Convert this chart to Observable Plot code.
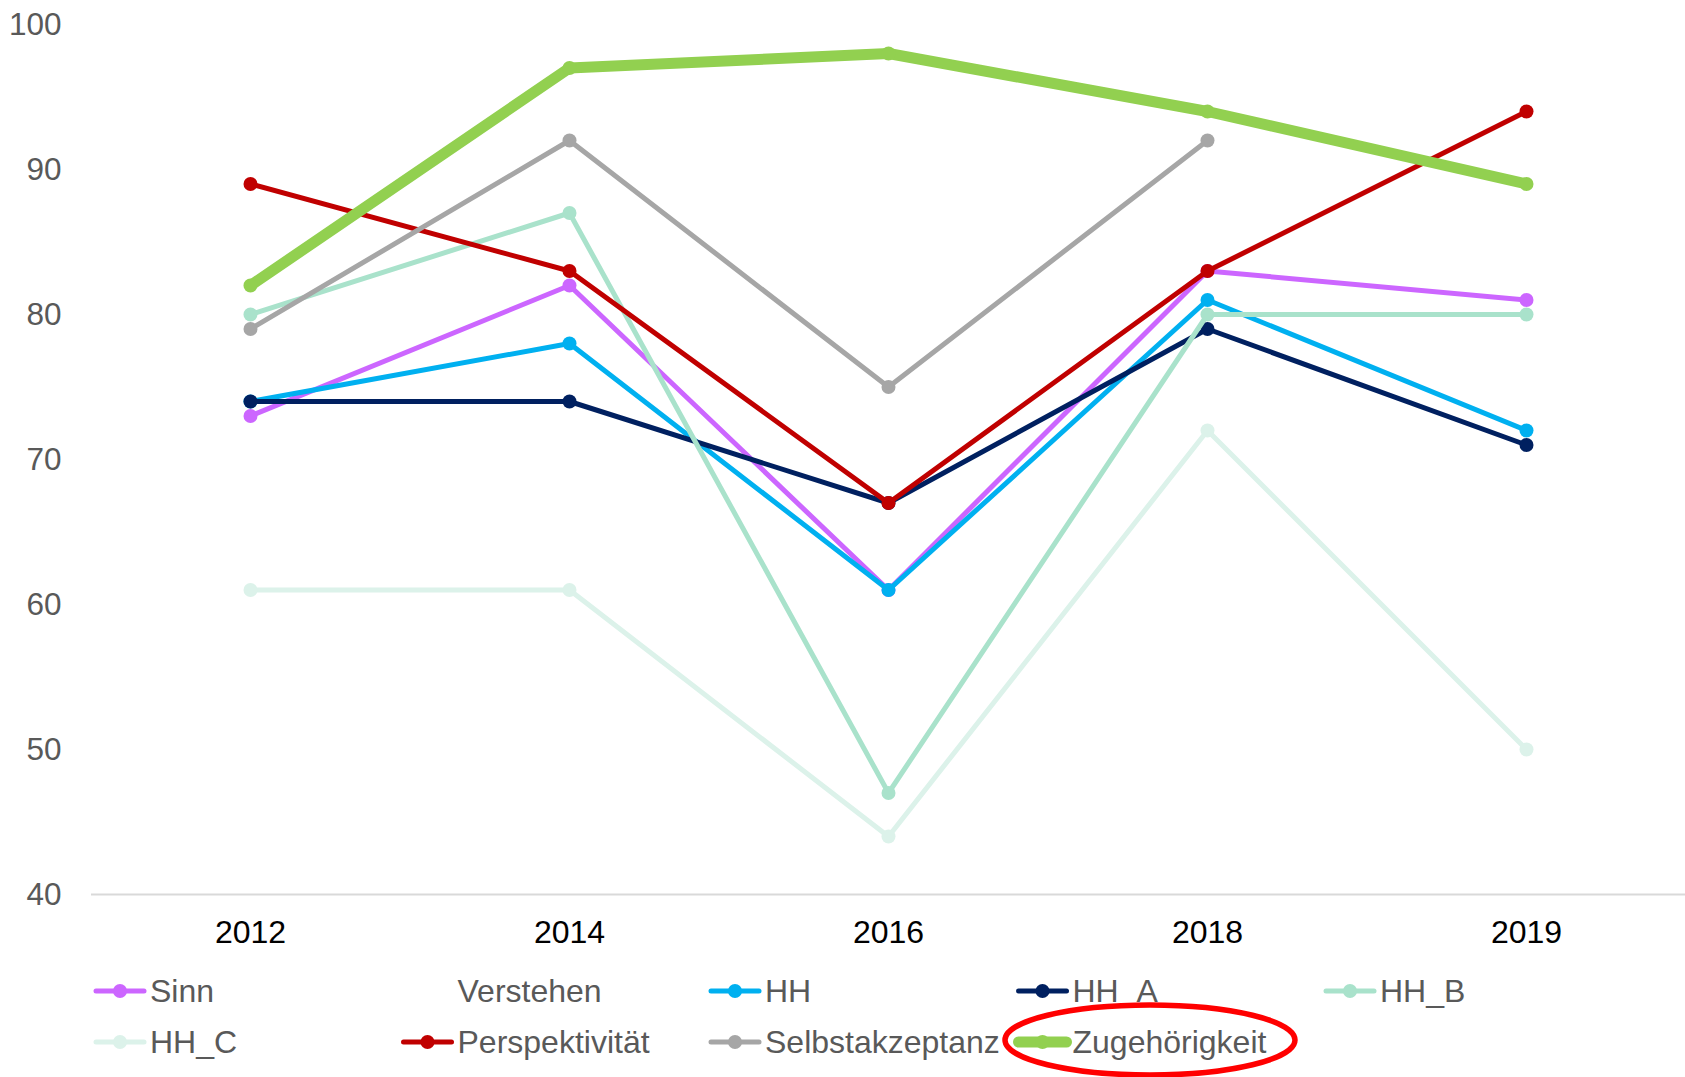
<!DOCTYPE html>
<html>
<head>
<meta charset="utf-8">
<script src="https://cdn.jsdelivr.net/npm/d3@7"></script>
<script src="https://cdn.jsdelivr.net/npm/@observablehq/plot@0.6"></script>
<style>
  html, body { margin: 0; padding: 0; background: #ffffff; }
  #chart { position: relative; width: 1685px; height: 1077px; font-family: "Liberation Sans", Arial, sans-serif; }
  #chart svg { display: block; }
</style>
</head>
<body>
<div id="chart"></div>
<script>
// Survey years on the horizontal axis
const years = ["2012", "2014", "2016", "2018", "2019"];
const yTicks = [40, 50, 60, 70, 80, 90, 100];

// Series names in legend order
const seriesNames = ["Sinn", "Verstehen", "HH", "HH_A", "HH_B", "HH_C", "Perspektivität", "Selbstakzeptanz", "Zugehörigkeit"];

// Values per series, one per year (null = no value)
const sinn            = [73, 82, 61, 83, 81];
const verstehen       = [null, null, null, null, null];
const hh              = [74, 78, 61, 81, 72];
const hhA             = [74, 74, 67, 79, 71];
const hhB             = [80, 87, 47, 80, 80];
const hhC             = [61, 61, 44, 72, 50];
const perspektivitaet = [89, 83, 67, 83, 94];
const selbstakzeptanz = [79, 92, 75, 92, null];
const zugehoerigkeit  = [82, 97, 98, 94, 89];

const seriesValues = [sinn, verstehen, hh, hhA, hhB, hhC, perspektivitaet, selbstakzeptanz, zugehoerigkeit];
const seriesColors = ["#CC66FF", null, "#00B0F0", "#002060", "#A9E2CB", "#DCF2EA", "#C00000", "#A6A6A6", "#92D050"];
const seriesWidths = [5, 0, 5, 5, 5, 5, 5, 5, 11];

const series = seriesNames.map((name, i) => ({
  name,
  color: seriesColors[i],
  width: seriesWidths[i],
  rows: years.map((year, j) => ({year, value: seriesValues[i][j]}))
}));

const fontFamily = "'Liberation Sans', Arial, sans-serif";
const dotR = 7;

// One line and its markers per series, drawn in legend order
const seriesMarks = series.filter(s => s.color).flatMap(s => [
  Plot.line(s.rows, {x: "year", y: "value", stroke: s.color, strokeWidth: s.width, strokeLinejoin: "round", strokeLinecap: "round"}),
  Plot.dot(s.rows.filter(d => d.value != null), {x: "year", y: "value", r: dotR, fill: s.color, stroke: "none"})
]);

const plot = Plot.plot({
  width: 1685,
  height: 960,
  marginLeft: 91,
  marginRight: 0,
  marginTop: 24,
  marginBottom: 66,
  style: {fontFamily, background: "#ffffff", overflow: "visible"},
  x: {type: "point", domain: years, range: [249, 1526], padding: 0, label: null},
  y: {domain: [40, 100], label: null},
  marks: [
    Plot.axisY({ticks: yTicks, tickSize: 0, tickPadding: 30, fontSize: 31.5, color: "#595959", label: null}),
    Plot.axisX({tickSize: 0, tickPadding: 26, fontSize: 32, color: "#000000", label: null}),
    Plot.ruleY([40], {stroke: "#D9D9D9", strokeWidth: 2}),
    ...seriesMarks
  ]
});

const chart = document.getElementById("chart");
chart.appendChild(plot);

// Legend below the plot: five columns, two rows
const legendHeight = 117;
const legend = d3.create("svg")
  .attr("width", 1685)
  .attr("height", legendHeight)
  .style("font-family", fontFamily);

const colStart = 96, colStep = 307.5, rowY = [31, 82], symLen = 48, textGap = 6;

series.forEach((s, i) => {
  const col = i % 5, row = Math.floor(i / 5);
  const x0 = colStart + col * colStep;
  const y0 = rowY[row];
  const g = legend.append("g");
  if (s.color) {
    g.append("line")
      .attr("x1", x0).attr("x2", x0 + symLen)
      .attr("y1", y0).attr("y2", y0)
      .attr("stroke", s.color)
      .attr("stroke-width", s.width)
      .attr("stroke-linecap", "round");
    g.append("circle")
      .attr("cx", x0 + symLen / 2).attr("cy", y0)
      .attr("r", dotR)
      .attr("fill", s.color);
  }
  g.append("text")
    .attr("x", x0 + symLen + textGap)
    .attr("y", y0)
    .attr("dy", "0.35em")
    .attr("font-size", 32)
    .attr("fill", "#595959")
    .text(s.name);
});

// Red ring highlighting the Zugehörigkeit entry
legend.append("ellipse")
  .attr("cx", 1150)
  .attr("cy", 80)
  .attr("rx", 145)
  .attr("ry", 35)
  .attr("fill", "none")
  .attr("stroke", "#FF0000")
  .attr("stroke-width", 5.5);

chart.appendChild(legend.node());
</script>
</body>
</html>
